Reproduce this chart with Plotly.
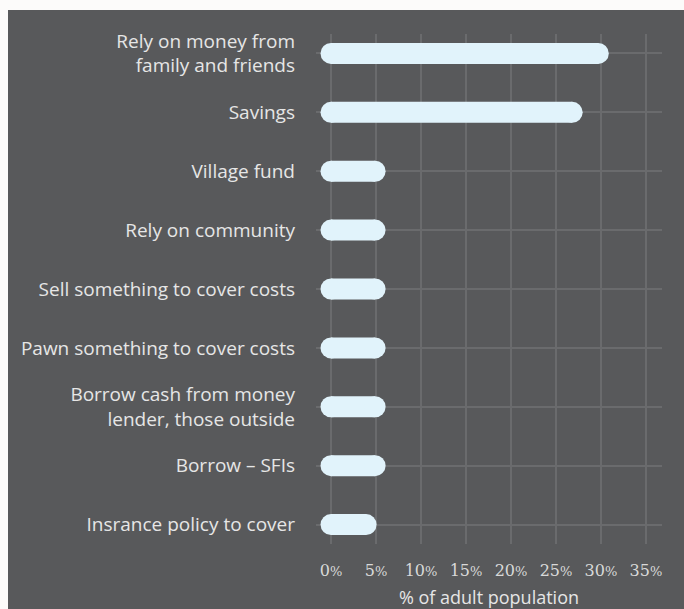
import plotly.graph_objects as go

# Coping mechanisms and share of adults using each
categories = [
    "Rely on money from<br>family and friends",
    "Savings",
    "Village fund",
    "Rely on community",
    "Sell something to cover costs",
    "Pawn something to cover costs",
    "Borrow cash from money<br>lender, those outside",
    "Borrow – SFIs",
    "Insrance policy to cover",
]
values = [29.7, 26.8, 4.9, 4.9, 4.9, 4.9, 4.9, 4.9, 3.9]
tick_values = [0, 5, 10, 15, 20, 25, 30, 35]

BG = "#58595b"
BAR = "#e1f3fb"
GRID = "#6a6b6d"
TEXT = "#e6e6e6"

# Each bar is a thick line from 0 to its value with round end caps
xs, ys = [], []
for cat, v in zip(categories, values):
    xs += [0, v, None]
    ys += [cat, cat, None]

fig = go.Figure()
fig.add_trace(go.Scatter(
    x=xs, y=ys, mode="lines+markers",
    line=dict(color=BAR, width=21),
    marker=dict(color=BAR, size=21, line=dict(width=0)),
    hoverinfo="skip", showlegend=False, connectgaps=False,
))

L, R, T, B = 316, 22, 34, 65
W, H = 684, 609
pw, ph = W - L - R, H - T - B

fig.update_layout(
    width=W, height=H,
    margin=dict(l=L, r=R, t=T, b=B),
    paper_bgcolor="#fcfbfa",
    plot_bgcolor="rgba(0,0,0,0)",
    shapes=[dict(
        type="rect", xref="paper", yref="paper", layer="below",
        x0=(8 - L) / pw, x1=(W + 5 - L) / pw,
        y0=(H - B - (H + 5)) / ph, y1=(H - B - 10) / ph,
        fillcolor=BG, line=dict(width=0),
    )],
    xaxis=dict(
        range=[-1.667, 36.78],
        tickvals=tick_values,
        ticktext=[f"{t}<span style='font-size:13px'>%</span>" for t in tick_values],
        tickfont=dict(family="DejaVu Serif", size=16, color="#d9d9d9"),
        showgrid=True, gridcolor=GRID, gridwidth=1.5,
        zeroline=False, showline=False, ticks="",
        ticklabelstandoff=15,
        automargin=False,
        title=dict(text="% of adult population",
                   font=dict(family="Open Sans", size=18, color=TEXT),
                   standoff=17),
        fixedrange=True,
    ),
    yaxis=dict(
        categoryorder="array", categoryarray=categories,
        range=[8.33, -0.33],
        showgrid=True, gridcolor=GRID, gridwidth=1.5,
        zeroline=False, showline=False, ticks="",
        tickfont=dict(family="Open Sans", size=19, color=TEXT),
        ticklabelstandoff=20,
        automargin=False,
        fixedrange=True,
    ),
)

fig.write_html("out.html")
